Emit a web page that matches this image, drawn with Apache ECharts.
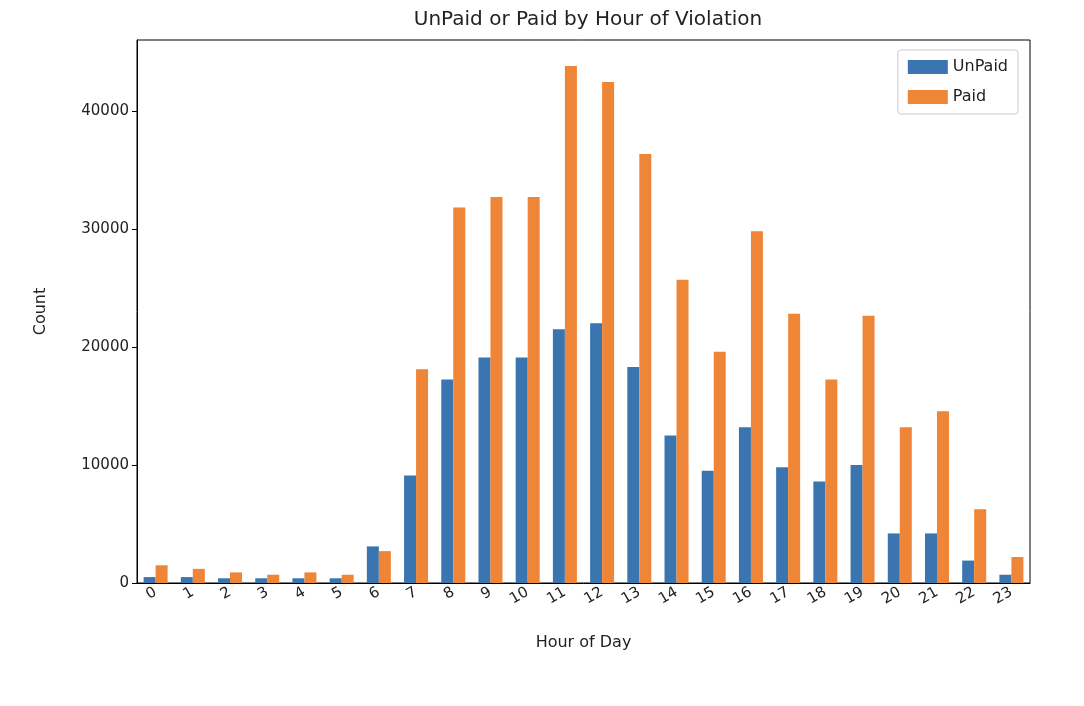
<!DOCTYPE html>
<html>
<head>
<meta charset="utf-8">
<script src="https://cdn.jsdelivr.net/npm/echarts@6/dist/echarts.min.js"></script>
<style>html,body{margin:0;background:#fff}#c{width:1084px;height:706px}</style>
</head>
<body>
<div id="c"></div>
<script>
var hours = ['0','1','2','3','4','5','6','7','8','9','10','11','12','13','14','15','16','17','18','19','20','21','22','23'];
var unpaid = [500,500,400,400,400,400,3100,9100,17250,19100,19100,21500,22000,18300,12500,9500,13200,9800,8600,10000,4200,4200,1900,700];
var paid = [1500,1200,900,700,900,700,2700,18100,31800,32700,32700,43800,42450,36350,25700,19600,29800,22800,17250,22650,13200,14550,6250,2200];

var chart = echarts.init(document.getElementById('c'));
var font = 'DejaVu Sans';
chart.setOption({
  animation: false,
  textStyle: {fontFamily: font},
  title: {text: 'UnPaid or Paid by Hour of Violation', left: 583, top: 5, textAlign: 'center',
    textStyle: {fontSize: 20, fontWeight: 'normal', color: '#222', fontFamily: font}},
  legend: {orient: 'vertical', right: 66, top: 50, itemWidth: 40, itemHeight: 14, itemGap: 14,
    padding: [9, 10], borderColor: '#ccc', borderWidth: 1, borderRadius: 3, icon: 'rect',
    textStyle: {fontSize: 16, color: '#222', fontFamily: font},
    data: ['UnPaid', 'Paid']},
  grid: {left: 137, right: 54, top: 40, bottom: 123, show: true, borderColor: '#000', borderWidth: 1},
  xAxis: {type: 'category', data: hours, name: 'Hour of Day', nameLocation: 'middle', nameGap: 52,
    nameTextStyle: {fontSize: 16, color: '#222'},
    axisLine: {lineStyle: {color: '#000'}}, axisTick: {alignWithLabel: true, lineStyle: {color: '#000'}},
    axisLabel: {rotate: 30, fontSize: 15, color: '#222', margin: 8}},
  yAxis: {type: 'value', min: 0, max: 46000, interval: 10000, name: 'Count', nameLocation: 'middle', nameGap: 88,
    nameTextStyle: {fontSize: 16, color: '#222'},
    splitLine: {show: false},
    axisLine: {show: true, lineStyle: {color: '#000'}}, axisTick: {show: true, lineStyle: {color: '#000'}},
    axisLabel: {fontSize: 15, color: '#222', showMaxLabel: false, formatter: function (v) { return String(v); }}},
  series: [
    {name: 'UnPaid', type: 'bar', data: unpaid, itemStyle: {color: '#3a75b0'}, barWidth: 12, barGap: '0%'},
    {name: 'Paid', type: 'bar', data: paid, itemStyle: {color: '#ef8536'}, barWidth: 12}
  ]
});
</script>
</body>
</html>
